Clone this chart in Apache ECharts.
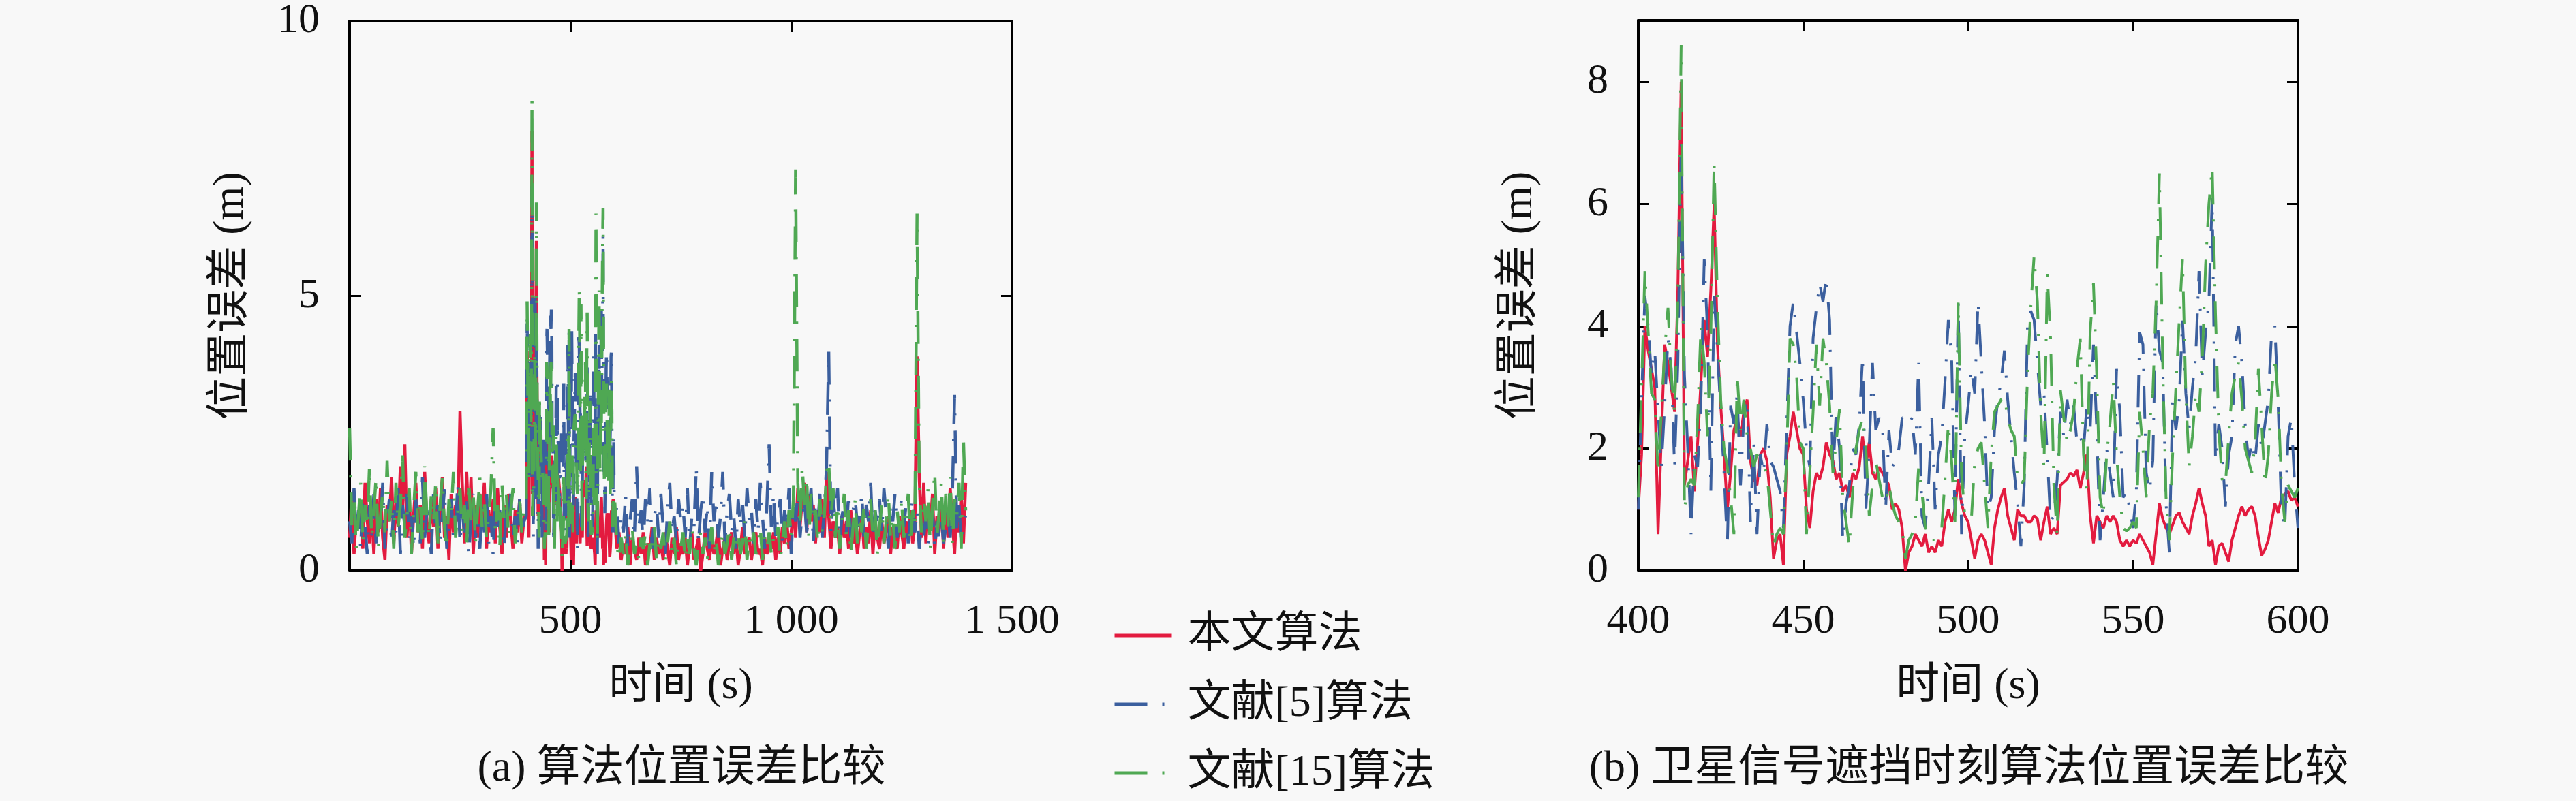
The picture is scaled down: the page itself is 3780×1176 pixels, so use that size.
<!DOCTYPE html>
<html>
<head>
<meta charset="utf-8">
<title>位置误差比较</title>
<script src="https://cdn.jsdelivr.net/npm/echarts@6/dist/echarts.min.js"></script>
<style>
  html, body { margin: 0; padding: 0; background: #f8f8f8; }
  #chart { width: 3780px; height: 1176px; }
</style>
</head>
<body>
<div id="chart"></div>
<script>
// series names
const names = ["本文算法", "文献[5]算法", "文献[15]算法"];
const colors = ["#e31b3f", "#3b5f9e", "#4fa853"];

// 0 ~ 395 s, every 5 s
const redEarly = [
  0.6, 1.4, 0.3, 1.0, 0.8, 1.2, 0.4, 1.6, 0.9, 0.5,
  1.1, 0.3, 1.3, 0.7, 1.5, 0.6, 0.2, 1.2, 0.9, 1.7,
  0.5, 1.3, 0.8, 1.9, 1.1, 2.3, 0.6, 1.4, 0.3, 1.0,
  1.6, 0.7, 1.2, 0.4, 1.8, 0.9, 0.5, 1.3, 0.8, 1.5,
  0.4, 1.1, 1.7, 0.6, 1.0, 0.2, 1.4, 0.7, 1.2, 0.9,
  2.9, 1.6, 0.5, 1.8, 0.8, 1.7, 0.3, 1.2, 0.6, 1.4,
  0.9, 1.6, 0.4, 1.1, 0.7, 1.3, 0.5, 1.5, 0.8, 0.3,
  1.2, 0.6, 1.4, 0.9, 0.4, 1.1, 0.7, 1.3, 0.5, 1.0
];
const blueEarly = [
  0.9, 0.5, 1.5, 0.7, 1.1, 0.4, 1.3, 0.8, 0.3, 1.2,
  0.6, 1.4, 0.5, 1.0, 0.8, 1.6, 0.4, 0.9, 1.3, 0.5,
  1.1, 0.7, 1.5, 0.3, 1.2, 0.8, 1.4, 0.6, 1.0, 0.4,
  1.3, 0.9, 0.5, 1.7, 0.6, 1.1, 0.8, 0.3, 1.4, 0.7,
  1.2, 0.5, 1.0, 1.5, 0.4, 0.9, 1.3, 0.6, 0.8, 1.6,
  0.5, 1.1, 0.7, 1.3, 0.3, 1.0, 1.4, 0.6, 0.9, 0.4,
  1.2, 0.7, 1.5, 0.5, 1.0, 0.3, 1.3, 0.8, 1.1, 0.6,
  0.4, 1.2, 0.9, 1.4, 0.6, 1.0, 0.5, 1.3, 0.7, 0.9
];
const greenEarly = [
  2.6, 0.8, 1.3, 0.4, 1.0, 1.6, 0.5, 1.2, 0.8, 1.9,
  0.6, 1.1, 1.7, 0.4, 1.0, 1.4, 0.7, 2.0, 0.9, 1.3,
  0.4, 1.6, 0.8, 1.2, 2.1, 0.6, 1.0, 1.5, 0.3, 1.1,
  1.8, 0.7, 1.3, 0.5, 1.9, 1.0, 0.6, 1.4, 0.9, 1.6,
  0.5, 1.2, 1.7, 0.8, 0.4, 1.3, 1.0, 1.8, 0.6, 1.1,
  1.5, 0.7, 1.2, 0.4, 1.6, 0.9, 1.4, 0.5, 1.1, 1.7,
  0.8, 1.3, 0.6, 1.0, 1.5, 2.6, 0.7, 1.2, 0.4, 1.6,
  0.9, 1.4, 0.6, 1.1, 1.5, 0.5, 1.0, 1.3, 0.7, 1.1
];

// 400 ~ 600 s, every 1 s (shown in both panels)
const redZoom = [
  1.0, 1.9, 4.0, 3.6, 3.3, 3.0, 0.6, 2.2, 3.7, 3.4,
  3.0, 2.6, 4.6, 8.0, 1.4, 1.8, 2.2, 1.3, 2.1, 3.1,
  4.1, 3.5, 4.6, 6.0, 3.7, 2.7, 1.9, 1.0, 1.6, 2.3,
  2.5, 2.2, 2.6, 2.8, 1.8, 1.5, 1.4, 1.9, 2.0, 1.8,
  1.2, 0.2, 0.5, 0.6, 0.1, 1.9, 2.2, 2.6, 2.3, 2.0,
  1.9, 1.0, 0.7, 1.3, 1.6, 1.5, 1.7, 2.1, 1.9, 1.8,
  1.5, 1.6, 1.3, 1.4, 1.2, 1.6, 1.5, 1.7, 2.2, 1.7,
  2.1, 1.6, 1.5, 1.7, 1.6, 1.5, 1.4, 1.0, 1.1, 1.0,
  0.7, 0.0, 0.3, 0.4, 0.6, 0.5, 0.4, 0.6, 0.3, 0.4,
  0.3, 0.5, 0.4, 0.8, 1.0, 0.8, 1.0, 1.5, 1.1, 0.9,
  0.8, 0.5, 0.2, 0.5, 0.6, 0.5, 0.3, 0.1, 0.7, 1.0,
  1.2, 1.35, 0.9, 0.7, 0.5, 1.0, 0.9, 0.9, 0.8, 0.8,
  0.9, 0.85, 0.5, 0.8, 1.05, 0.6, 0.7, 0.6, 1.4, 1.45,
  1.5, 1.6, 1.55, 1.65, 1.35, 1.6, 1.9, 0.9, 0.45, 0.9,
  0.8, 0.7, 0.9, 0.8, 0.9, 0.8, 0.5, 0.4, 0.5, 0.4,
  0.5, 0.45, 0.6, 0.5, 0.4, 0.3, 0.1, 0.6, 1.1, 0.85,
  0.7, 0.6, 0.75, 0.9, 0.95, 0.8, 0.7, 0.6, 0.9, 1.1,
  1.35, 1.1, 0.9, 0.4, 0.5, 0.1, 0.4, 0.45, 0.3, 0.15,
  0.5, 0.7, 0.9, 1.05, 0.9, 1.0, 1.05, 0.9, 0.55, 0.25,
  0.35, 0.5, 0.8, 1.1, 0.95, 1.2, 1.25, 1.3, 1.15, 1.2,
  1.05
];
const blueZoom = [
  1.0, 2.8, 4.5, 4.0, 3.2, 3.6, 2.6, 1.7, 2.7, 3.8,
  3.3, 1.7, 3.4, 7.0, 3.2, 2.0, 0.6, 1.9, 1.7, 2.8,
  5.1, 3.9, 1.3, 4.5, 3.6, 2.6, 1.6, 0.4, 2.7, 2.4,
  2.9, 1.4, 2.5, 2.8, 0.8, 2.1, 0.6, 1.9, 1.6, 2.4,
  1.8, 1.7, 1.5, 1.3, 0.7, 2.4, 4.0, 4.4, 3.9, 3.4,
  2.8, 2.0, 1.7, 3.8, 4.3, 4.7, 4.4, 4.8, 4.1, 1.6,
  2.6, 2.0, 0.5, 1.1, 1.4, 2.0, 1.9, 2.4, 3.5, 1.0,
  2.0, 3.4, 2.3, 2.5, 2.4, 1.0, 2.3, 1.7, 1.8, 2.0,
  2.5, 2.5, 2.4, 2.5, 1.9, 3.4, 0.9, 0.7, 1.4, 2.5,
  1.0, 1.9, 2.2, 3.1, 4.1, 3.5, 0.9, 4.4, 0.6, 2.2,
  2.7, 3.3, 2.9, 4.4, 3.4, 2.4, 1.0, 1.2, 2.3, 2.8,
  3.1, 3.6, 2.8, 2.2, 1.6, 1.1, 0.4, 1.4, 4.0, 4.25,
  4.1, 3.4, 2.7, 2.9, 1.9, 0.8, 0.9, 1.5, 2.6, 2.2,
  2.8, 2.4, 2.7, 2.1, 2.2, 2.0, 2.7, 2.3, 3.7, 2.3,
  0.5, 1.2, 2.0, 1.6, 1.2, 3.3, 2.6, 1.2, 1.3, 1.0,
  0.7, 1.3, 3.9, 3.7, 1.6, 1.3, 1.8, 4.4, 3.6, 3.4,
  1.1, 0.3, 2.8, 2.3, 2.8, 4.1, 2.9, 2.3, 3.0, 3.5,
  4.9, 3.2, 3.9, 4.4, 6.1, 1.8, 2.4, 2.0, 1.05, 1.9,
  2.2, 3.7, 4.0, 3.4, 2.4, 1.8, 2.1, 1.8, 2.4, 2.0,
  2.4, 2.8, 3.9, 4.0, 2.7, 1.0, 0.7, 2.2, 2.5, 1.4,
  0.7
];
const greenZoom = [
  1.2, 3.0, 4.9, 3.9, 2.9, 2.8, 1.6, 2.6, 3.6, 4.3,
  3.2, 2.6, 4.4, 8.6, 1.0, 1.4, 1.5, 1.4, 2.5, 4.0,
  3.4, 2.2, 3.9, 6.7, 4.4, 2.8, 2.0, 1.7, 1.2, 0.6,
  3.2, 2.3, 2.8, 2.2, 2.0, 1.7, 1.9, 1.8, 1.7, 1.6,
  1.0, 0.4, 0.6, 0.7, 0.6, 1.9, 3.8, 3.7, 3.2, 2.1,
  2.0, 0.6, 1.6, 2.6, 3.7, 2.7, 3.8, 3.4, 2.7, 1.6,
  2.1, 2.65, 1.2, 0.8, 0.4, 1.3, 2.0, 2.3, 2.5, 2.0,
  0.9, 1.4, 1.8, 1.5, 1.2, 1.1, 1.4, 1.1, 0.9, 0.8,
  0.7, 0.2, 0.5, 0.6, 0.8, 1.7, 1.3, 0.7, 0.5, 0.5,
  0.5, 0.6, 0.7, 1.5, 2.4, 1.8, 0.8, 4.4, 1.6, 0.9,
  0.9, 0.85, 1.8, 2.0, 2.1, 1.4, 0.7, 1.9, 2.6, 2.7,
  2.8, 2.85, 2.5, 2.3, 2.2, 1.5, 1.4, 1.5, 3.2, 4.3,
  5.15, 4.4, 2.6, 1.7, 4.85, 3.8, 1.4, 0.6, 2.95, 2.5,
  2.1, 2.3, 2.6, 3.3, 3.8, 1.9, 1.3, 3.9, 4.7, 3.2,
  1.2, 0.9, 1.9, 2.4, 3.1, 1.9, 1.2, 0.7, 0.65, 0.7,
  0.8, 0.7, 2.6, 2.0, 1.2, 2.4, 2.9, 4.4, 6.5, 3.4,
  1.2, 0.5, 1.9, 3.0, 4.1, 5.1, 2.9, 1.7, 2.2, 2.9,
  2.6, 3.5, 5.0, 6.0, 6.6, 4.2, 2.3, 1.5, 1.4, 2.2,
  2.9, 3.2, 3.4, 2.8, 2.0, 1.8, 1.6, 2.1, 3.3, 2.4,
  1.4, 1.9, 2.9, 3.5, 2.8, 1.4, 0.8, 1.4, 1.3, 1.2,
  1.35
];

// 605 ~ 1395 s, every 5 s
const redLate = [
  0.4, 0.7, 0.2, 0.5, 0.3, 0.8, 0.1, 0.6, 0.4, 0.2,
  0.6, 0.3, 0.7, 0.1, 0.5, 0.4, 0.8, 0.2, 0.6, 0.3,
  0.5, 0.2, 0.7, 0.4, 0.1, 0.6, 0.3, 0.8, 0.2, 0.5,
  0.3, 0.6, 0.1, 0.5, 0.7, 0.2, 0.4, 0.6, 0.0, 0.3,
  0.7, 0.4, 0.2, 0.6, 0.3, 0.5, 0.8, 0.1, 0.4, 0.6,
  0.2, 0.5, 0.7, 0.3, 0.6, 0.1, 0.4, 0.8, 0.3, 0.5,
  0.6, 0.2, 0.5, 0.7, 0.3, 0.4, 0.1, 0.6, 0.3, 0.5,
  0.4, 0.7, 0.2, 0.6, 0.3, 0.8, 0.5, 0.9, 0.4, 0.7,
  1.1, 0.6, 1.5, 0.8, 1.3, 1.6, 0.7, 1.4, 0.9, 1.2,
  0.5, 1.1, 0.7, 1.3, 0.6, 1.8, 1.0, 0.4, 0.9, 0.6,
  0.8, 0.3, 1.0, 0.6, 0.9, 0.4, 1.1, 0.5, 0.8, 0.3,
  0.7, 1.0, 0.4, 0.8, 0.5, 1.1, 0.3, 0.9, 0.6, 0.4,
  0.9, 0.5, 0.7, 1.0, 0.3, 0.8, 0.6, 0.4, 1.0, 0.7,
  0.4, 0.9, 0.6, 1.1, 0.5, 0.8, 3.9, 1.7, 0.6, 1.6,
  0.5, 1.2, 0.8, 1.4, 0.3, 1.0, 0.7, 1.3, 0.4, 1.1,
  0.6, 1.5, 0.9, 0.3, 1.2, 0.7, 1.4, 0.5, 1.6
];
const blueLate = [
  1.2, 0.5, 1.0, 0.7, 1.4, 0.4, 0.9, 1.3, 0.6, 1.9,
  0.8, 1.1, 0.5, 1.3, 0.9, 1.5, 0.4, 1.0, 1.2, 0.6,
  1.4, 0.8, 0.3, 1.1, 1.6, 0.7, 1.0, 0.5, 1.3, 0.9,
  1.2, 0.6, 1.5, 0.4, 1.0, 0.8, 1.9, 0.5, 1.1, 1.4,
  0.7, 1.2, 0.4, 1.8, 0.9, 1.3, 0.6, 1.0, 1.8, 0.5,
  1.1, 1.4, 0.7, 1.0, 0.4, 1.3, 0.8, 1.2, 0.6, 1.5,
  0.9, 1.1, 0.5, 1.3, 0.7, 1.6, 1.0, 0.4, 1.2, 2.3,
  0.8, 1.4, 0.6, 1.0, 1.3, 0.5, 1.1, 0.8, 1.5, 0.3,
  1.2, 0.9, 1.4, 0.6, 1.1, 1.3, 0.7, 1.0, 1.5, 0.5,
  1.2, 0.8, 1.4, 0.6, 1.1, 1.9, 4.0, 0.7, 1.3, 0.9,
  1.5, 0.5, 1.0, 1.2, 0.7, 1.4, 0.6, 1.1, 1.3, 0.8,
  1.0, 1.4, 0.5, 1.2, 0.9, 1.6, 0.6, 1.1, 0.8, 1.3,
  0.7, 1.5, 1.0, 0.4, 1.2, 0.9, 1.4, 0.6, 1.1, 1.3,
  0.8, 1.2, 0.5, 1.0, 1.3, 0.7, 1.1, 0.4, 0.9, 0.6,
  1.0, 0.5, 0.8, 1.1, 0.4, 0.9, 0.6, 1.0, 0.5, 0.8,
  1.1, 0.6, 1.4, 3.2, 0.7, 1.2, 0.5, 0.9, 1.0
];
const greenLate = [
  0.5, 0.2, 0.6, 0.3, 0.7, 0.1, 0.4, 0.8, 0.3, 0.5,
  0.2, 0.6, 0.4, 0.7, 0.1, 0.5, 0.3, 0.8, 0.2, 0.6,
  0.4, 0.7, 0.2, 0.5, 0.9, 0.3, 0.6, 0.1, 0.5, 0.4,
  0.7, 0.2, 0.6, 0.3, 0.8, 0.4, 0.1, 0.5, 0.7, 0.3,
  0.6, 0.2, 0.5, 0.8, 0.3, 0.6, 0.1, 0.4, 0.7, 0.3,
  0.5, 0.8, 0.2, 0.6, 0.4, 0.7, 0.3, 0.5, 0.9, 0.2,
  0.6, 0.4, 0.7, 0.3, 0.5, 0.8, 0.2, 0.6, 0.4, 0.7,
  0.3, 0.6, 0.5, 0.8, 0.2, 0.5, 0.9, 0.4, 1.1, 0.6,
  1.3, 7.3, 1.6, 0.8, 1.9, 1.2, 1.7, 0.6, 1.4, 0.9,
  1.1, 0.5, 1.3, 0.7, 1.0, 1.8, 2.0, 0.9, 1.5, 0.6,
  1.2, 0.4, 0.9, 1.4, 0.6, 1.1, 0.3, 0.8, 1.3, 0.5,
  1.0, 0.7, 1.2, 0.4, 0.9, 1.3, 0.6, 1.1, 0.3, 0.8,
  1.2, 0.5, 0.9, 1.4, 0.6, 1.0, 0.4, 1.1, 0.7, 1.3,
  0.6, 1.0, 1.4, 0.5, 1.1, 0.8, 6.5, 1.6, 0.7, 1.3,
  0.9, 1.5, 0.4, 1.2, 1.8, 0.6, 1.1, 1.6, 0.5, 1.4,
  0.8, 1.7, 0.5, 1.3, 1.0, 1.6, 0.4, 2.4, 1.1
];

const FONT = "'Liberation Serif', 'Noto Sans CJK SC', serif";
const TXT = "#111";

function pairs(start, step, values) {
  return values.map((v, i) => [start + i * step, v]);
}
function spaced(v) {
  return String(v).replace(/\B(?=(\d{3})+(?!\d))/g, " ");
}

const early = [redEarly, blueEarly, greenEarly];
const zoom = [redZoom, blueZoom, greenZoom];
const late = [redLate, blueLate, greenLate];

const dash = [48, 22, 3, 22];
function lineStyleFor(k, width) {
  return { color: colors[k], width: width, type: k === 0 ? "solid" : dash };
}

function frameAxes(grid, dim, min, max, interval, extra) {
  const line = { show: true, onZero: false, lineStyle: { color: "#000", width: 4 } };
  const tick = { show: true, inside: true, length: 16, lineStyle: { color: "#000", width: 3 } };
  const main = Object.assign({
    type: "value", gridIndex: grid, min: min, max: max, interval: interval,
    position: dim === "x" ? "bottom" : "left",
    axisLine: line, axisTick: tick, splitLine: { show: false },
    axisLabel: { color: TXT, fontSize: 62, fontFamily: FONT, margin: 44 },
    nameTextStyle: { color: TXT, fontSize: 64, fontFamily: FONT }
  }, extra);
  const mirror = {
    type: "value", gridIndex: grid, min: min, max: max, interval: interval,
    position: dim === "x" ? "top" : "right",
    axisLine: line, axisTick: tick, splitLine: { show: false },
    axisLabel: { show: false }
  };
  return [main, mirror];
}

const xAxes = [].concat(
  frameAxes(0, "x", 0, 1500, 500, {
    name: "时间 (s)", nameLocation: "middle", nameGap: 138,
    axisLabel: { color: TXT, fontSize: 62, fontFamily: FONT, margin: 44, showMinLabel: false, formatter: spaced }
  }),
  frameAxes(1, "x", 400, 600, 50, {
    name: "时间 (s)", nameLocation: "middle", nameGap: 138
  })
);
const yAxes = [].concat(
  frameAxes(0, "y", 0, 10, 5, {
    name: "位置误差 (m)", nameLocation: "middle", nameGap: 142
  }),
  frameAxes(1, "y", 0, 9, 2, {
    name: "位置误差 (m)", nameLocation: "middle", nameGap: 142,
    axisLabel: { color: TXT, fontSize: 62, fontFamily: FONT, margin: 44, showMaxLabel: false }
  })
);

const series = [];
names.forEach((name, k) => {
  series.push({
    name: name, type: "line", xAxisIndex: 0, yAxisIndex: 0,
    showSymbol: false, symbol: "none", animation: false,
    lineStyle: lineStyleFor(k, 4.5),
    data: pairs(0, 5, early[k]).concat(pairs(400, 1, zoom[k]), pairs(605, 5, late[k]))
  });
});
names.forEach((name, k) => {
  series.push({
    name: name, type: "line", xAxisIndex: 2, yAxisIndex: 2,
    showSymbol: false, symbol: "none", animation: false,
    lineStyle: lineStyleFor(k, 4),
    data: pairs(400, 1, zoom[k])
  });
});

const chart = echarts.init(document.getElementById("chart"));
chart.setOption({
  backgroundColor: "#f8f8f8",
  animation: false,
  textStyle: { fontFamily: FONT, color: TXT },
  grid: [
    { left: 513, top: 30, width: 972, height: 808 },
    { left: 2404, top: 30, width: 968, height: 808 }
  ],
  xAxis: xAxes,
  yAxis: yAxes,
  legend: {
    data: names,
    orient: "vertical",
    left: 1628, top: 893,
    itemWidth: 84, itemHeight: 14, itemGap: 31,
    itemStyle: { color: "transparent", borderColor: "transparent", opacity: 0 },
    lineStyle: { width: 5 },
    textStyle: { fontSize: 64, fontFamily: FONT, color: TXT, lineHeight: 70, padding: [0, 0, 0, 18] }
  },
  graphic: [
    { type: "text", x: 1000, y: 1129,
      style: { text: "(a) 算法位置误差比较", align: "center", verticalAlign: "middle", fill: TXT, font: "64px " + FONT } },
    { type: "text", x: 2889, y: 1129,
      style: { text: "(b) 卫星信号遮挡时刻算法位置误差比较", align: "center", verticalAlign: "middle", fill: TXT, font: "64px " + FONT } }
  ],
  series: series
});

window.addEventListener("resize", () => chart.resize());
</script>
</body>
</html>
